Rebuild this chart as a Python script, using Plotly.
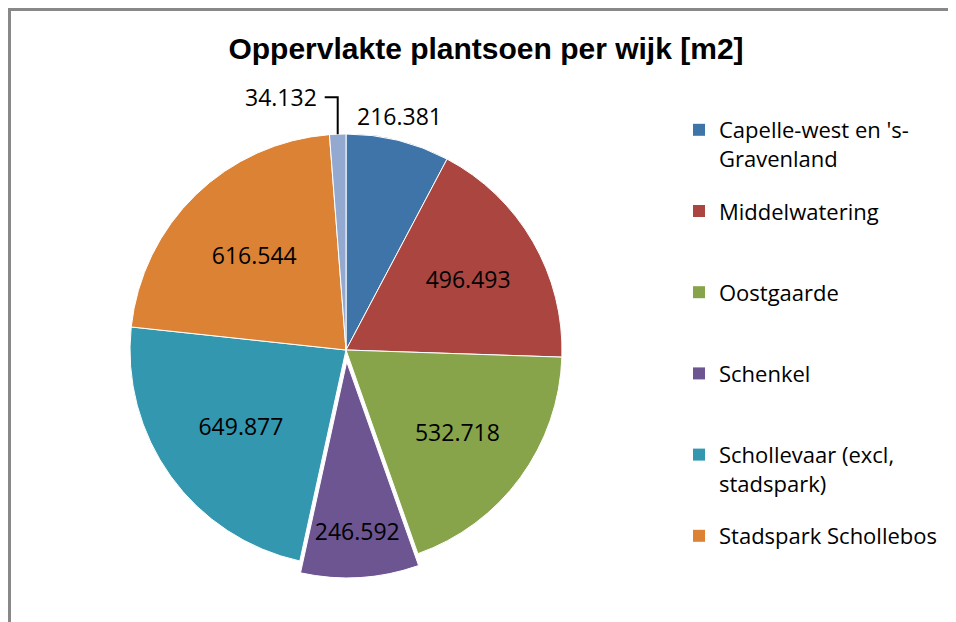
import math
import plotly.graph_objects as go

categories = [
    "Capelle-west en 's-Gravenland",
    "Middelwatering",
    "Oostgaarde",
    "Schenkel",
    "Schollevaar (excl, stadspark)",
    "Stadspark Schollebos",
    "Overig",
]
legend_labels = [
    "Capelle-west en 's-<br>Gravenland",
    "Middelwatering",
    "Oostgaarde",
    "Schenkel",
    "Schollevaar (excl,<br>stadspark)",
    "Stadspark Schollebos",
]
values = [216381, 496493, 532718, 246592, 649877, 616544, 34132]
colors = ["#3F74A9", "#AA4540", "#87A44A", "#6D5591", "#3397B0", "#DB8234", "#93A9CF"]
pulls = [0, 0, 0, 0.055, 0, 0, 0]
textpos = ["none", "inside", "inside", "inside", "inside", "inside", "none"]

W, H = 956, 622
OFF = 8                                # page body margin around the figure
cx, cy, rad = 346 - OFF, 350 - OFF, 216  # pie centre / radius in figure pixels
half = rad * (1 + max(pulls))
FONT = "Open Sans"
FS = 23

def X(v): return v / W
def Y(v): return 1 - v / H
def fmt(v): return f"{v:,}".replace(",", ".")

fig = go.Figure()
fig.add_trace(go.Pie(
    labels=categories, values=values, sort=False, direction="clockwise", rotation=0,
    marker=dict(colors=colors, line=dict(color="white", width=1)),
    pull=pulls, textposition=textpos, texttemplate="%{value:,}",
    insidetextorientation="horizontal",
    textfont=dict(family=FONT, size=FS, color="#000000"),
    domain=dict(x=[X(cx - half), X(cx + half)], y=[Y(cy + half), Y(cy - half)]),
    showlegend=False, hoverinfo="label+value",
))

# first slice label: just above the rim, right of 12 o'clock
fig.add_annotation(x=X(cx + 9), y=Y(cy - rad - 18), xref="paper", yref="paper",
                   text=fmt(values[0]), showarrow=False, xanchor="left", yanchor="middle",
                   font=dict(family=FONT, size=FS, color="#000000"))

# leader line + label for the tiny last slice, positioned from the data angle
total = sum(values)
theta = 2 * math.pi * (1 - values[-1] / (2 * total))
px = cx + rad * math.sin(theta)
py = cy - rad * math.cos(theta)
rise, run = 37, 13
fig.add_shape(type="path", xref="paper", yref="paper",
              path=f"M {X(px)} {Y(py)} L {X(px)} {Y(py - rise)} L {X(px - run)} {Y(py - rise)}",
              line=dict(color="#000000", width=2))
fig.add_annotation(x=X(px - run - 6), y=Y(py - rise), xref="paper", yref="paper",
                   text=fmt(values[-1]), showarrow=False, xanchor="right", yanchor="middle",
                   font=dict(family=FONT, size=FS, color="#000000"))

# legend entries (6 named districts), each two lines high, one group each
for i, lab in enumerate(legend_labels):
    nlines = lab.count("<br>") + 1
    padded = lab + "<br>\u00a0" * (2 - nlines)
    fig.add_trace(go.Scatter(
        x=[None], y=[None], mode="markers", name=padded, legendgroup=f"g{i}",
        marker=dict(symbol="square", size=13, color=colors[i]),
        showlegend=True, hoverinfo="skip",
    ))

fig.update_layout(
    width=W, height=H,
    margin=dict(l=0, r=0, t=0, b=0, autoexpand=False),
    paper_bgcolor="white", plot_bgcolor="white",
    separators=",.",
    xaxis=dict(visible=False), yaxis=dict(visible=False),
    title=dict(text="<b>Oppervlakte plantsoen per wijk [m2]</b>",
               font=dict(family="Liberation Sans, Arial", size=30, color="#000000"),
               x=X(486 - OFF), xanchor="center", y=Y(48 - OFF), yanchor="middle"),
    legend=dict(x=X(679 - OFF), xanchor="left", y=Y(109 - OFF), yanchor="top",
                font=dict(family=FONT, size=22, color="#000000"),
                valign="top", tracegroupgap=21, itemsizing="constant",
                bgcolor="rgba(0,0,0,0)"),
)
fig.add_shape(type="rect", xref="paper", yref="paper",
              x0=X(1.5), x1=1.05, y0=-0.05, y1=Y(1.5),
              line=dict(color="#888888", width=3), fillcolor="rgba(0,0,0,0)")

fig.write_html("out.html")
